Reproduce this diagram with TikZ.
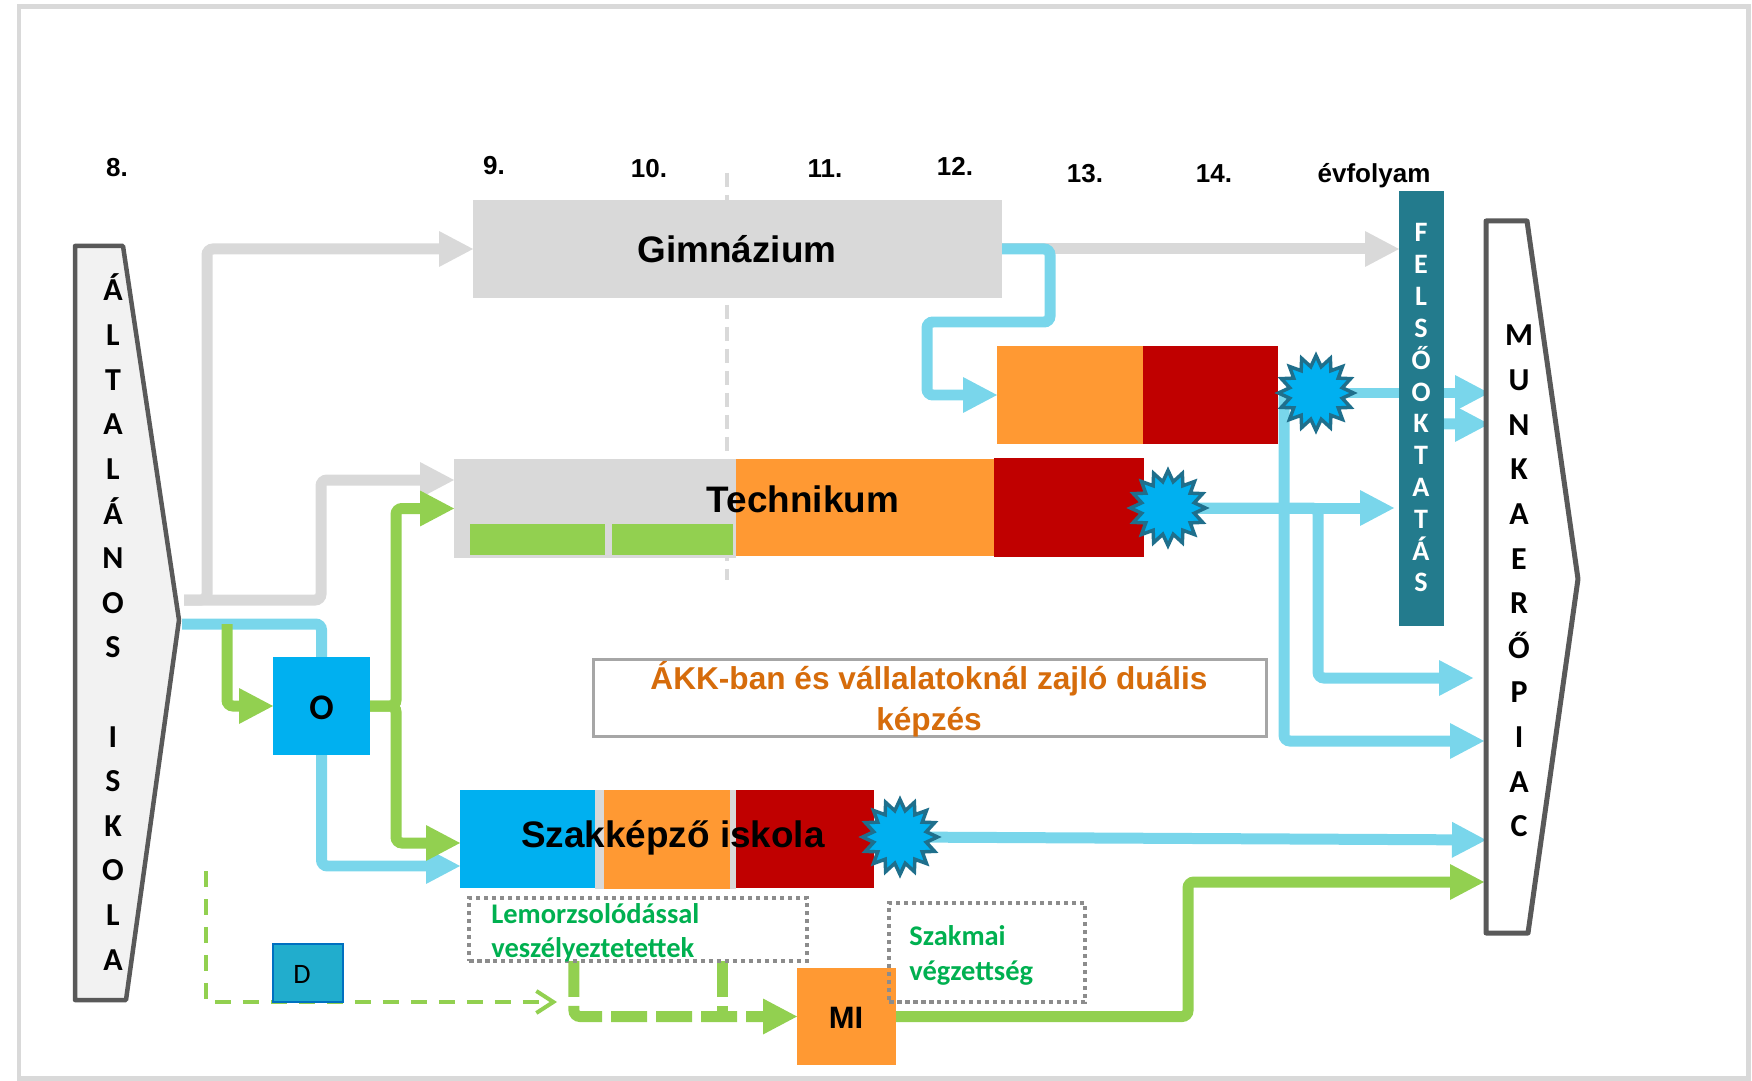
\documentclass[tikz,border=0pt]{standalone}
\usepackage{fontspec}
\setmainfont{Liberation Sans}
\newfontfamily\carlito{Carlito}
\usetikzlibrary{arrows.meta,shapes.geometric,fit,backgrounds}

\definecolor{boxgray}{HTML}{D9D9D9}
\definecolor{linecyan}{HTML}{79D6EB}
\definecolor{cellblue}{HTML}{00B0F0}
\definecolor{cellorange}{HTML}{FF9933}
\definecolor{cellred}{HTML}{C00000}
\definecolor{grlime}{HTML}{92D050}
\definecolor{textgreen}{HTML}{00B050}
\definecolor{barteal}{HTML}{237B8D}
\definecolor{starrim}{HTML}{1F6F8C}
\definecolor{dfill}{HTML}{21ADCD}
\definecolor{dline}{HTML}{0070C0}
\definecolor{akktext}{HTML}{D66C0B}
\definecolor{outline}{HTML}{595959}
\definecolor{dotgray}{HTML}{8C8C8C}
\definecolor{akkline}{HTML}{A6A6A6}
\definecolor{pentfill}{HTML}{F2F2F2}

\tikzset{
    cell/.style={fill=#1, draw=none, inner sep=0pt, outer sep=0pt},
    pipe/.style={line width=0.22cm, rounded corners=0.12cm},
    pipearrow/.style={pipe, -{Triangle[length=0.68cm,width=0.72cm,line width=0pt]}},
    hotstar/.style={star, star points=16, star point ratio=1.4, minimum size=1.5cm, inner sep=0pt, fill=cellblue, draw=starrim, line width=0.07cm},
    dotbox/.style={draw=dotgray, line width=0.09cm, dash pattern=on 0.09cm off 0.07cm, inner sep=0pt, outer sep=0pt},
    yearlbl/.style={font=\fontsize{14.8}{17}\selectfont\bfseries, anchor=base, inner sep=0pt},
    schooltxt/.style={font=\fontsize{21}{25}\selectfont\bfseries, anchor=base, inner sep=0pt},
    vletter/.style={font=\carlito\fontsize{18.2}{20}\selectfont\bfseries, anchor=base, inner sep=0pt},
    barletter/.style={font=\carlito\fontsize{16}{18}\selectfont\bfseries, text=white, anchor=base, inner sep=0pt},
    greentxt/.style={font=\carlito\fontsize{16.2}{18}\selectfont\bfseries, text=textgreen, anchor=base west, inner sep=0pt},
    akktxt/.style={font=\fontsize{18}{20}\selectfont\bfseries, text=akktext, anchor=base, inner sep=0pt}
}

\begin{document}
\begin{tikzpicture}[x=0.02cm, y=-0.02cm]
    \useasboundingbox (0,0) rectangle (1752,1081);

    \node[yearlbl] (y8) at (117,177) {8.};
    \node[yearlbl] (y9) at (494,175) {9.};
    \node[yearlbl] (y10) at (649,178) {10.};
    \node[yearlbl] (y11) at (825,178) {11.};
    \node[yearlbl] (y12) at (955,176) {12.};
    \node[yearlbl] (y13) at (1085,183) {13.};
    \node[yearlbl] (y14) at (1214,183) {14.};
    \node[yearlbl] (evf) at (1374,183) {évfolyam};

    \draw[draw=outline, fill=pentfill, line width=0.09cm, line join=round] (75,246) -- (123,246) -- (179,620) -- (126,1000) -- (75,1000) -- cycle;
    \foreach \k/\c in {0/Á,1/L,2/T,3/A,4/L,5/Á,6/N,7/O,8/S,10/I,11/S,12/K,13/O,14/L,15/A}
    \node[vletter] (alt\k) at (113,301+44.6*\k) {\c};

    \draw[draw=outline, fill=white, line width=0.1cm, line join=round] (1486,221) -- (1527,221) -- (1578,579) -- (1528,933) -- (1486,933) -- cycle;
    \foreach \k/\c in {0/M,1/U,2/N,3/K,4/A,5/E,6/R,7/Ő,8/P,9/I,10/A,11/C}
    \node[vletter] (mun\k) at (1519,346+44.6*\k) {\c};

    \coordinate (in1) at (1489,393);
    \coordinate (in2) at (1489,424);
    \coordinate (in3) at (1473,678);
    \coordinate (in4) at (1484,741);
    \coordinate (in5) at (1486,840);
    \coordinate (in6) at (1484,882);
    \coordinate (outgray) at (184,600);
    \coordinate (outcyan) at (182,624);
    \coordinate (outgreen) at (227,624);
    \coordinate (dstart) at (206,871);
    \coordinate (dend) at (557,1002);

    \node[cell=boxgray, fit={(473,200) (1002,298)}] (gim) {};
    \node[schooltxt] (gimtxt) at (737,263) {Gimnázium};

    \node[cell=cellorange, fit={(997,346) (1143,444)}] (u13) {};
    \node[cell=cellred, fit={(1143,346) (1278,444)}] (u14) {};

    \node[cell=boxgray, fit={(454,459) (736,558)}] (t9) {};
    \node[cell=grlime, fit={(470,524) (605,555)}] (t9g) {};
    \node[cell=grlime, fit={(612,524) (733,555)}] (t10g) {};
    \node[cell=cellorange, fit={(736,459) (994,556)}] (t11) {};
    \node[cell=cellred, fit={(994,458) (1144,557)}] (t13) {};
    \node[schooltxt] (techtxt) at (803,512) {Technikum};

    \node[cell=boxgray, fit={(595,790) (736,889)}] (sgap) {};
    \node[cell=cellblue, fit={(460,790) (595,888)}] (szakb) {};
    \node[cell=cellorange, fit={(604,790) (730,889)}] (szako) {};
    \node[cell=cellred, fit={(736,790) (874,888)}] (szakr) {};
    \node[schooltxt] (szaktxt) at (673,847) {Szakképző iskola};

    \node[hotstar] (ustar) at (1316,393) {};
    \node[hotstar] (tstar) at (1168,508) {};
    \node[hotstar] (sstar) at (900,837) {};

    \node[cell=barteal, fit={(1399,191) (1444,626)}] (felso) {};
    \foreach \k/\c in {0/F,1/E,2/L,3/S,4/Ő,5/O,6/K,7/T,8/A,9/T,10/Á,11/S}
    \node[barletter] (fel\k) at (1421,242+31.8*\k) {\c};

    \node[cell=cellblue, fit={(273,657) (370,755)}] (o) {};
    \node[font=\carlito\fontsize{20.5}{22}\selectfont\bfseries, anchor=base, inner sep=0pt] (otxt) at (321.5,719) {O};

    \node[cell=dfill, draw=dline, line width=0.04cm, fit={(273,944) (343,1002)}] (d) {};
    \node[font=\carlito\fontsize{16}{18}\selectfont, anchor=base, inner sep=0pt] (dtxt) at (302,983) {D};

    \node[cell=cellorange, fit={(797,968) (896,1065)}] (mi) {};
    \node[font=\fontsize{17.6}{20}\selectfont\bfseries, anchor=base, inner sep=0pt] (mitxt) at (846,1028) {MI};

    \node[draw=akkline, line width=0.06cm, inner sep=0pt, outer sep=0pt, fit={(593,659) (1266,736)}] (akk) {};
    \node[akktxt] (akk1) at (929,689) {ÁKK-ban és vállalatoknál zajló duális};
    \node[akktxt] (akk2) at (929,730) {képzés};

    \node[dotbox, fit={(469,898) (807,961)}] (lem) {};
    \node[greentxt] (lem1) at (491,923) {Lemorzsolódással};
    \node[greentxt] (lem2) at (491,957) {veszélyeztetettek};

    \node[dotbox, fit={(889,903) (1085,1002)}] (szk) {};
    \node[greentxt] (szk1) at (909,945) {Szakmai};
    \node[greentxt] (szk2) at (909,980) {végzettség};

    \begin{scope}[on background layer]
    \draw[boxgray, line width=0.1cm] (19,7) rectangle (1748,1078);
    \draw[boxgray, line width=0.07cm, dash pattern=on 0.28cm off 0.16cm] (727,173) -- (727,580);

    \draw[pipearrow, color=boxgray] (outgray) -- ++(23,0) |- (gim.west);
    \draw[pipearrow, color=boxgray] (outgray) -- ++(137,0) |- ([yshift=0.57cm]t9.west);
    \draw[pipearrow, color=boxgray] (gim.east) -- (felso.west |- gim.east);

    \draw[pipe, color=linecyan] (outcyan) -| (o.north);
    \draw[pipearrow, color=linecyan] (o.south) |- ([yshift=-0.54cm]szakb.west);
    \draw[pipearrow, color=linecyan] (gim.east) -- ++(48,0) -- ++(0,73) -- ++(-123,0) |- (u13.west);
    \draw[pipearrow, color=linecyan] (ustar.center) -- (in1);
    \draw[pipearrow, color=linecyan] ([yshift=-0.31cm]felso.east) -- (in2);
    \draw[pipearrow, color=linecyan] (ustar.center) -- ++(-32,0) |- (in4);
    \draw[pipearrow, color=linecyan] (tstar.center) -- ([xshift=-0.1cm]felso.west |- tstar.center);
    \draw[pipearrow, color=linecyan] (tstar.center) -- ++(150,0) |- (in3);
    \draw[pipearrow, color=linecyan] (sstar.center) -- (in5);

    \draw[pipearrow, color=grlime] (outgreen) |- (o.west);
    \draw[pipearrow, color=grlime] (o.east) -- ++(26,0) |- (t9.west);
    \draw[pipearrow, color=grlime] (o.east) -- ++(26,0) |- ([yshift=-0.08cm]szakb.west);
    \draw[pipearrow, color=grlime] (mi.east) -- ++(292,0) |- (in6);
    \draw[pipearrow, color=grlime, dash pattern=on 0.72cm off 0.18cm] ([xshift=2.1cm]lem.south west) |- (mi.west);
    \draw[pipe, color=grlime, dash pattern=on 0.72cm off 0.18cm] ([xshift=5.08cm]lem.south west) -- ++(0,56);
    \draw[color=grlime, line width=0.08cm, dash pattern=on 0.32cm off 0.24cm, -{Straight Barb[length=0.34cm,width=0.44cm]}] (dstart) |- (dend);
    \end{scope}
\end{tikzpicture}
\end{document}
